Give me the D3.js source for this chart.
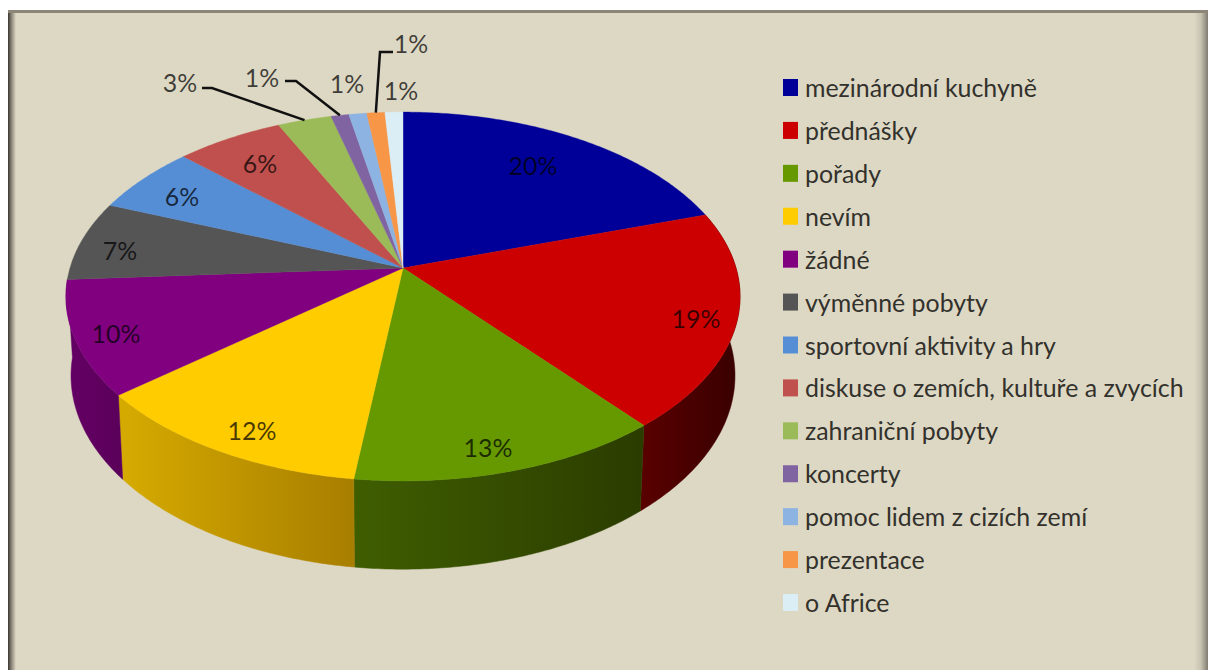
<!DOCTYPE html>
<html lang="cs">
<head>
<meta charset="utf-8">
<title>Koláčový graf</title>
<script src="https://cdn.jsdelivr.net/npm/d3@7/dist/d3.min.js"></script>
<style>
  html, body { margin: 0; padding: 0; background: #fff; }
  svg { display: block; }
  text { font-family: Lato, "Open Sans", sans-serif; }
</style>
</head>
<body>
<svg id="chart" width="1208" height="670"></svg>
<script>
// Chart content
const categories = [
  "mezinárodní kuchyně", "přednášky", "pořady", "nevím", "žádné",
  "výměnné pobyty", "sportovní aktivity a hry", "diskuse o zemích, kultuře a zvycích",
  "zahraniční pobyty", "koncerty", "pomoc lidem z cizích zemí", "prezentace", "o Africe"
];
const shares = [20, 19, 13, 12, 10, 7, 6, 6, 3, 1, 1, 1, 1];

// Slice colours: top face, then the lit and shaded ends of the side wall
const faceColors = ["#000099", "#cc0000", "#669900", "#ffcc00", "#800080", "#555555", "#558ed5",
                    "#c0504d", "#9bbb59", "#8064a2", "#8db3e2", "#f79646", "#dceef5"];
const wallLeft  = ["#000060", "#5a0000", "#3f5e00", "#d6ab00", "#650065", "#333333", "#34588a",
                   "#7a3230", "#627738", "#504066", "#5a728f", "#a0612d", "#8a969b"];
const wallRight = ["#000060", "#380000", "#2b3c00", "#a87e00", "#5a005a", "#333333", "#34588a",
                   "#7a3230", "#627738", "#504066", "#5a728f", "#a0612d", "#8a969b"];

// Label anchors in page pixels, in slice order
const labelX = [533, 696, 488, 252, 116, 120, 182, 260, 180, 262, 347, 401, 411];
const labelY = [165, 318, 447, 430, 333, 250, 196, 163, 82, 77, 83, 90, 43];
// Elbowed leader lines: slice index and where the line leaves its label
const leaders = [
  { slice: 8,  startX: 202, elbowX: 212, y: 88 },
  { slice: 9,  startX: 285, elbowX: 296, y: 81 },
  { slice: 11, startX: 393, elbowX: 380, y: 52 }
];

// Perspective view of the disc: the far rim is foreshortened, so the apex sits above the ellipse centre
const view = { x: 403, y: 268, a: 333, b: 180, k: 0.1545 };
const topRim = t => {
  const w = 1 + view.k * Math.cos(t);
  return [view.x + view.a * Math.sin(t) / w, view.y - view.b * Math.cos(t) / w];
};
// The lower rim is the upper rim pushed down, slightly narrower and more open
const lowerRim = t => {
  const [x, y] = topRim(t);
  return [view.x + 0.985 * (x - view.x), 1.05 * y + 64.25];
};
const sample = (a0, a1, f) => {
  const n = Math.max(2, Math.ceil((a1 - a0) / 0.01));
  return d3.range(n + 1).map(i => f(a0 + (a1 - a0) * i / n));
};

const svg = d3.select("#chart");
const defs = svg.append("defs");
const polygon = d3.line().curve(d3.curveLinearClosed);

// Panel with its frame
const edgeFade = (id, x1, x2, stops) => {
  const g = defs.append("linearGradient").attr("id", id).attr("x1", x1).attr("x2", x2).attr("y1", 0).attr("y2", 0);
  stops.forEach(([o, c]) => g.append("stop").attr("offset", o).attr("stop-color", c));
};
edgeFade("frameLeft", 0, 1, [[0, "#38342f"], [0.35, "#7d786c"], [1, "#ddd8c4"]]);
edgeFade("frameRight", 0, 1, [[0, "#ddd8c4"], [0.5, "#c6c2b0"], [1, "#7f7b70"]]);
svg.append("rect").attr("x", 8).attr("y", 10).attr("width", 1200).attr("height", 660).attr("fill", "#ddd8c4");
svg.append("rect").attr("x", 8).attr("y", 10).attr("width", 8).attr("height", 660).attr("fill", "url(#frameLeft)");
svg.append("rect").attr("x", 1194).attr("y", 10).attr("width", 14).attr("height", 660).attr("fill", "url(#frameRight)");
svg.append("rect").attr("x", 8).attr("y", 10).attr("width", 1200).attr("height", 3).attr("fill", "#8c8679");

// Slice angles
const pie = d3.pie().value(d => d).sort(null).startAngle(0).endAngle(2 * Math.PI);
const slices = pie(shares);

// Only slices centred on the near half show a side wall; the top faces are painted over them
const walls = svg.append("g");
slices.forEach((s, i) => {
  if (Math.cos((s.startAngle + s.endAngle) / 2) >= 0) return;
  const g = defs.append("linearGradient").attr("id", "wall" + i)
    .attr("gradientUnits", "objectBoundingBox").attr("x1", 0).attr("x2", 1).attr("y1", 0).attr("y2", 0);
  g.append("stop").attr("offset", 0).attr("stop-color", wallLeft[i]);
  g.append("stop").attr("offset", 1).attr("stop-color", wallRight[i]);
  const outline = sample(s.startAngle, s.endAngle, topRim)
    .concat(sample(s.startAngle, s.endAngle, lowerRim).reverse());
  walls.append("path").attr("d", polygon(outline))
    .attr("fill", `url(#wall${i})`).attr("stroke", `url(#wall${i})`).attr("stroke-width", 0.5);
});

const faces = svg.append("g");
slices.forEach((s, i) => {
  const outline = [[view.x, view.y]].concat(sample(s.startAngle, s.endAngle, topRim));
  faces.append("path").attr("d", polygon(outline))
    .attr("fill", faceColors[i]).attr("stroke", faceColors[i]).attr("stroke-width", 0.4);
});

// Leader lines run from the label to the middle of the slice's rim
const leaderGroup = svg.append("g");
leaders.forEach(l => {
  const s = slices[l.slice];
  const rim = topRim((s.startAngle + s.endAngle) / 2);
  leaderGroup.append("path")
    .attr("d", d3.line()([[l.startX, l.y], [l.elbowX, l.y], rim]))
    .attr("fill", "none").attr("stroke", "#111").attr("stroke-width", 2.5);
});

// Percentage labels
svg.append("g").selectAll("text").data(slices).join("text")
  .attr("x", (d, i) => labelX[i])
  .attr("y", (d, i) => labelY[i])
  .attr("text-anchor", "middle").attr("dominant-baseline", "central")
  .attr("font-size", 24.9).attr("fill", "#000").attr("fill-opacity", 0.72)
  .text(d => d.value + "%");

// Legend
const legendY = d3.scalePoint().domain(categories).range([87, 602]);
const legend = svg.append("g").selectAll("g").data(categories).join("g")
  .attr("transform", d => `translate(0,${legendY(d)})`);
legend.append("rect").attr("x", 783).attr("y", -8).attr("width", 15).attr("height", 17)
  .attr("fill", (d, i) => faceColors[i]);
legend.append("text").attr("x", 805).attr("y", 0)
  .attr("dominant-baseline", "central")
  .attr("font-size", 24.9).attr("fill", "#33312c")
  .text(d => d);
</script>
</body>
</html>
